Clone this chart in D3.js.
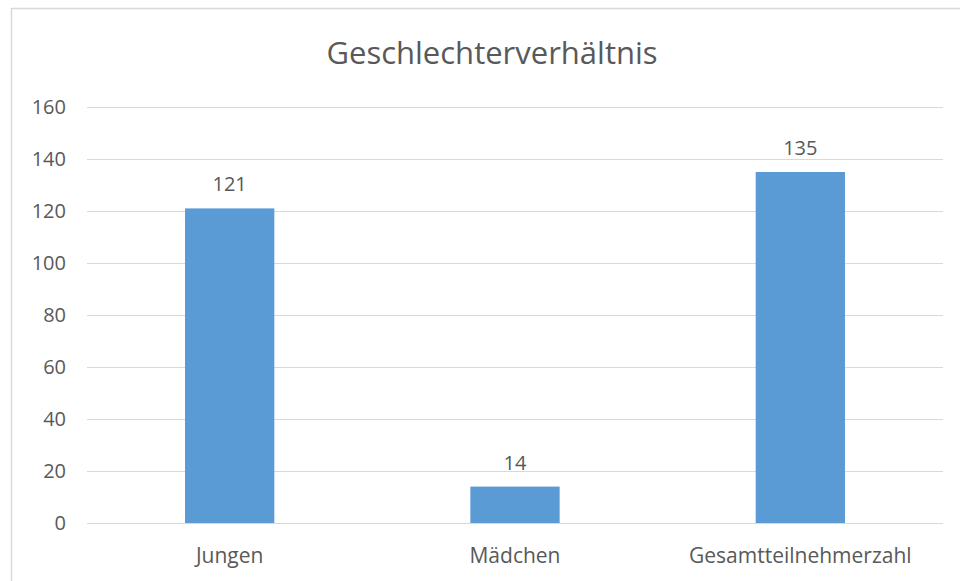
<!DOCTYPE html>
<html>
  <head>
    <meta charset="utf-8">
    <script src="https://cdn.jsdelivr.net/npm/d3@7"></script>
    <style>
      body { margin: 0; background: #fff; }
      text { font-family: "Open Sans", sans-serif; fill: #595959; }
      .grid line { stroke: #d9d9d9; stroke-width: 1.5; shape-rendering: crispEdges; }
      .grid path { display: none; }
    </style>
  </head>
  <body>
    <script>
      // chart data
      var categories = ["Jungen", "Mädchen", "Gesamtteilnehmerzahl"];
      var values = [121, 14, 135];
      var yTicks = [0, 20, 40, 60, 80, 100, 120, 140, 160];
      var title = "Geschlechterverhältnis";

      var width = 960, height = 581;
      var margin = {top: 107, right: 17, bottom: 58, left: 87};
      var w = width - margin.left - margin.right,
          h = height - margin.top - margin.bottom;

      var svg = d3.select("body").append("svg")
          .attr("width", width)
          .attr("height", height);

      // chart frame
      svg.append("rect")
          .attr("x", 11.5)
          .attr("y", 8.5)
          .attr("width", 1000)
          .attr("height", 700)
          .attr("fill", "#fff")
          .attr("stroke", "#d9d9d9")
          .attr("stroke-width", 1.5);

      svg.append("text")
          .attr("x", 492)
          .attr("y", 64)
          .attr("text-anchor", "middle")
          .style("font-size", "31px")
          .text(title);

      var g = svg.append("g")
          .attr("transform", "translate(" + margin.left + "," + margin.top + ")");

      var x = d3.scaleBand()
          .domain(categories)
          .range([0, w])
          .paddingInner(0.687)
          .paddingOuter(0.3435);

      var y = d3.scaleLinear()
          .domain([0, 160])
          .range([h, 0]);

      // gridlines
      g.append("g")
          .attr("class", "grid")
          .call(d3.axisLeft(y).tickValues(yTicks).tickSize(-w).tickFormat(""));

      // tick labels
      g.selectAll(".ylab")
          .data(yTicks)
        .enter().append("text")
          .attr("class", "ylab")
          .attr("x", -21)
          .attr("y", function(d) { return y(d); })
          .attr("dy", "0.35em")
          .attr("text-anchor", "end")
          .style("font-size", "20px")
          .text(function(d) { return d; });

      g.selectAll(".bar")
          .data(values)
        .enter().append("rect")
          .attr("class", "bar")
          .attr("x", function(d, i) { return x(categories[i]); })
          .attr("y", function(d) { return y(d); })
          .attr("width", x.bandwidth())
          .attr("height", function(d) { return h - y(d); })
          .attr("fill", "#5b9bd5");

      // value labels
      g.selectAll(".vlab")
          .data(values)
        .enter().append("text")
          .attr("class", "vlab")
          .attr("x", function(d, i) { return x(categories[i]) + x.bandwidth() / 2; })
          .attr("y", function(d) { return y(d) - 17; })
          .attr("text-anchor", "middle")
          .style("font-size", "20px")
          .text(function(d) { return d; });

      // category labels
      g.selectAll(".xlab")
          .data(categories)
        .enter().append("text")
          .attr("class", "xlab")
          .attr("x", function(d) { return x(d) + x.bandwidth() / 2; })
          .attr("y", h + 40)
          .attr("text-anchor", "middle")
          .style("font-size", "21px")
          .text(function(d) { return d; });
    </script>
  </body>
</html>
